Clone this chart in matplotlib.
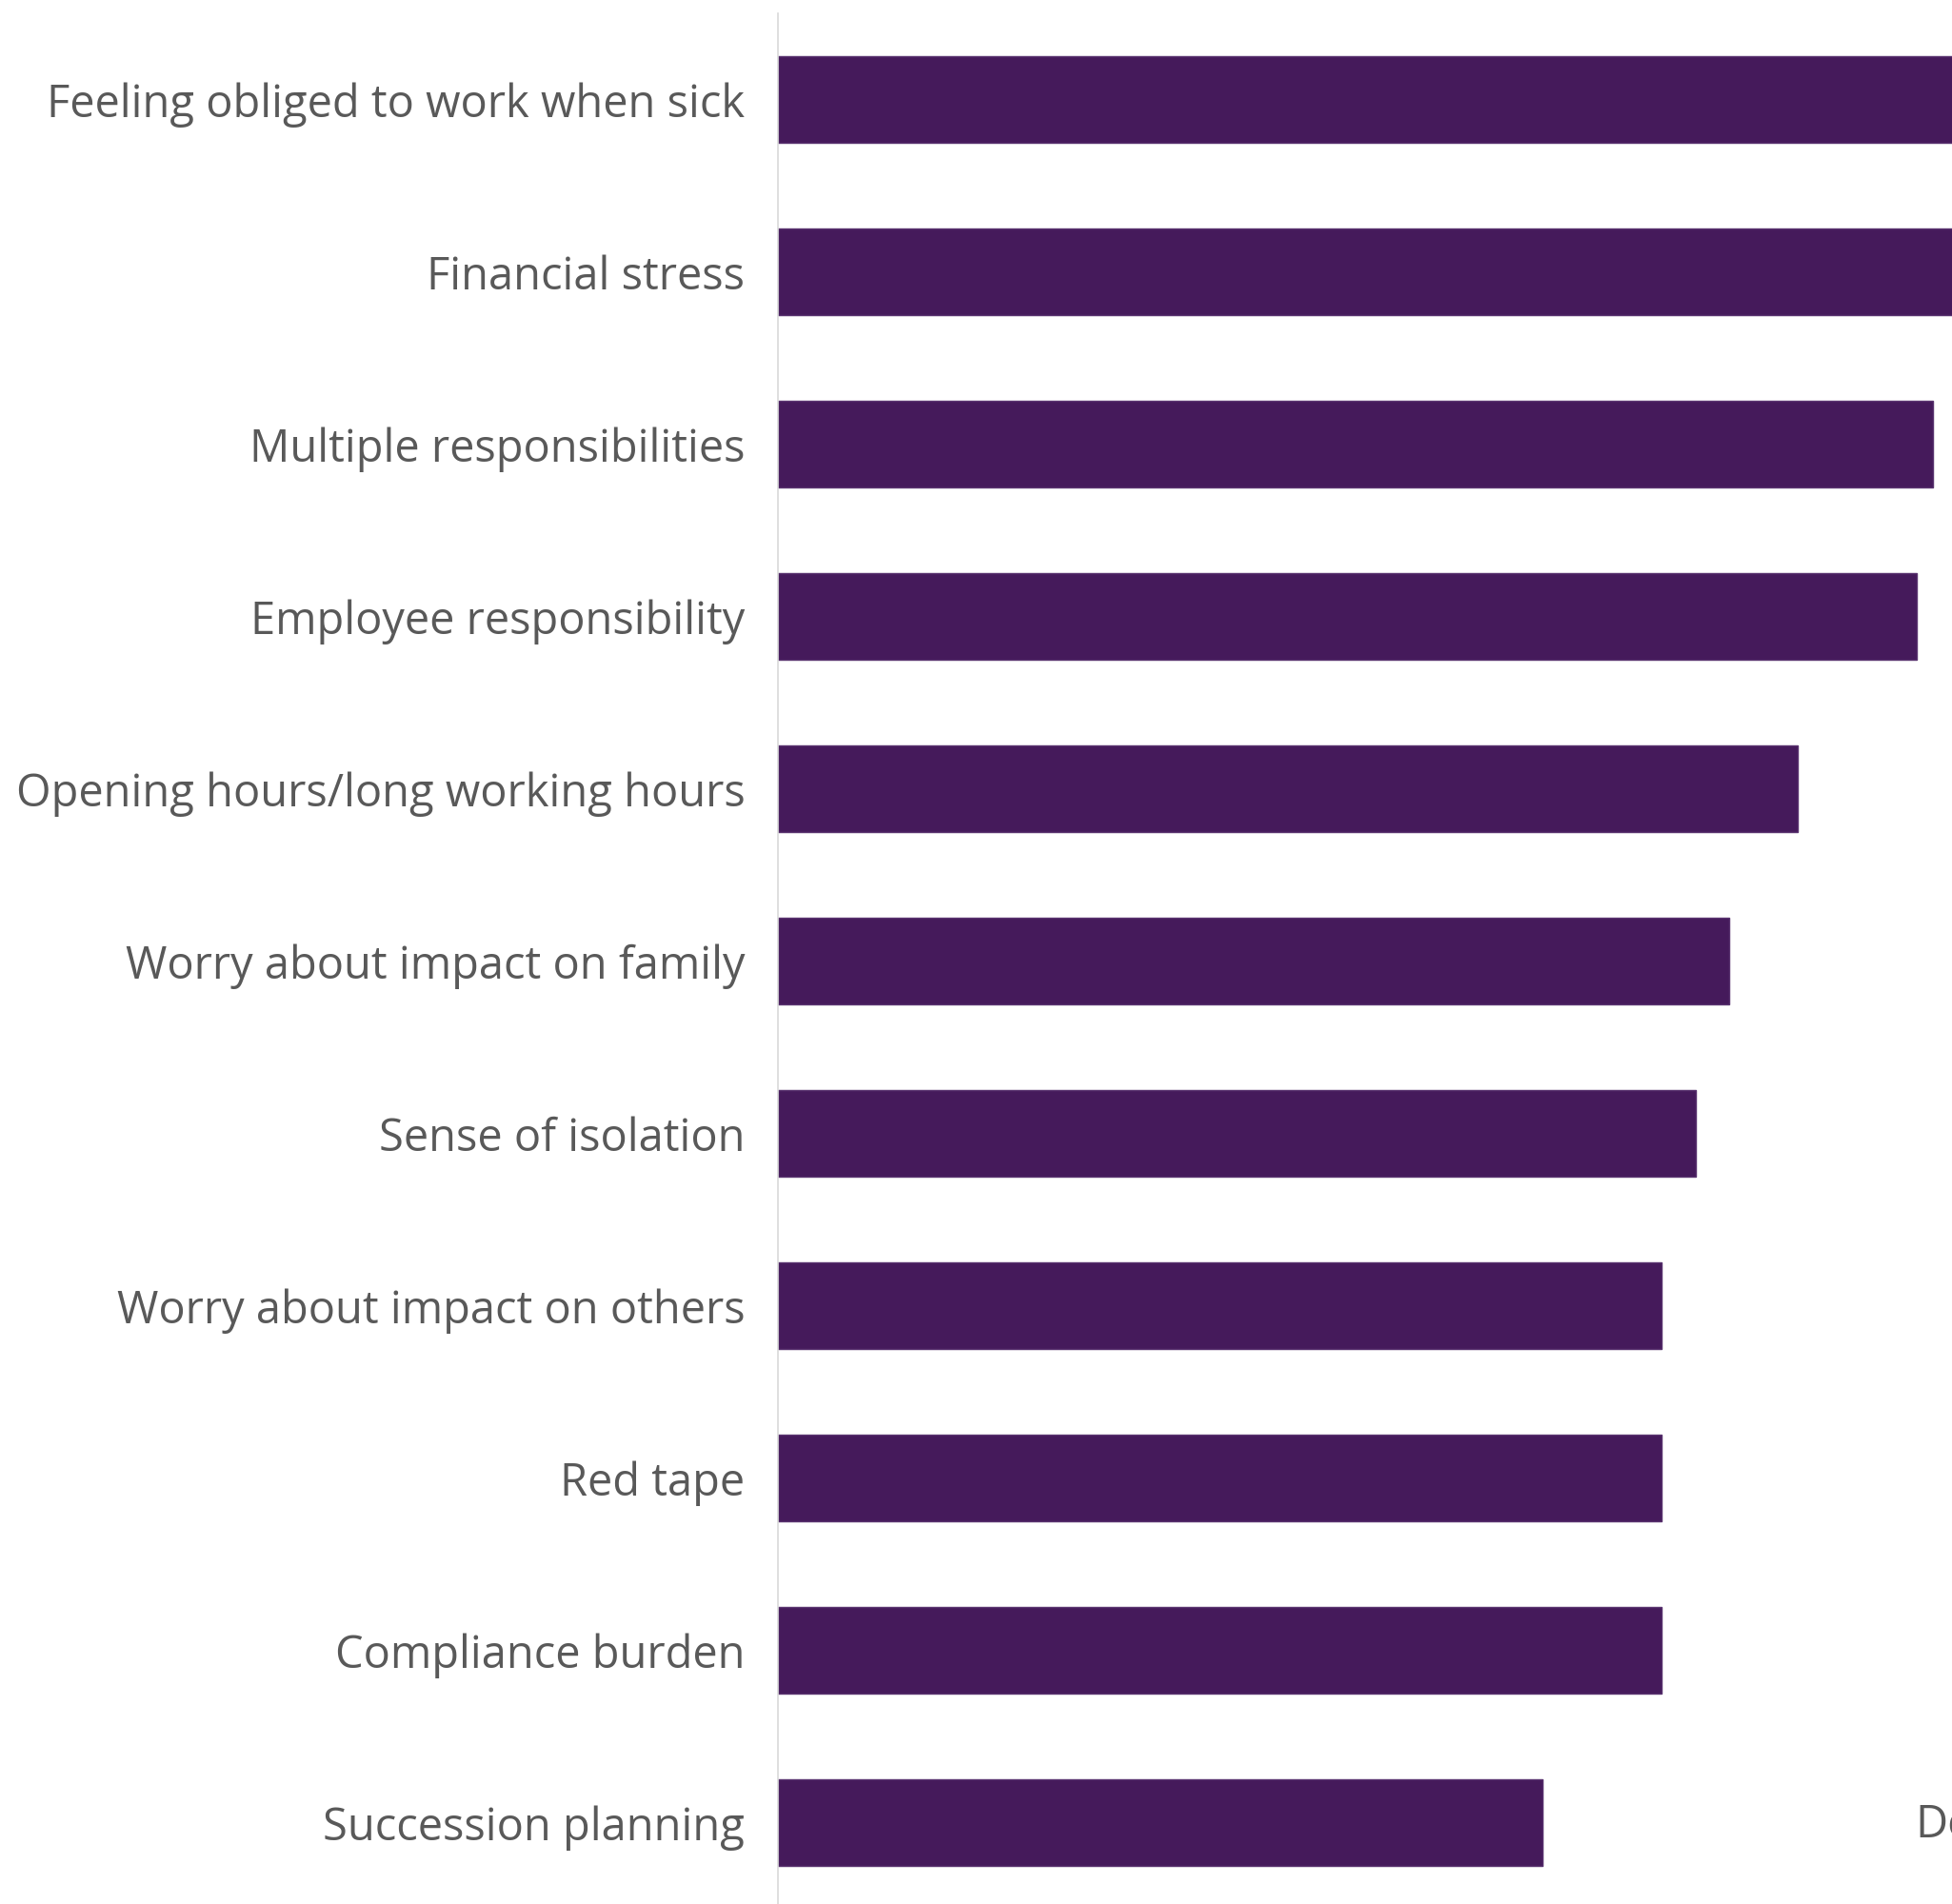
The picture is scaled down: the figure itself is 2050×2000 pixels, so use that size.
import matplotlib.pyplot as plt

categories = [
    "Feeling obliged to work when sick",
    "Financial stress",
    "Multiple responsibilities",
    "Employee responsibility",
    "Opening hours/long working hours",
    "Worry about impact on family",
    "Sense of isolation",
    "Worry about impact on others",
    "Red tape",
    "Compliance burden",
    "Succession planning",
]
values = [76, 73, 68, 67, 60, 56, 54, 52, 52, 52, 45]

bar_color = "#451A5B"
text_color = "#595959"

plt.rcParams['font.family'] = ['Open Sans', 'DejaVu Sans']

fig = plt.figure(figsize=(20.5, 20), dpi=100)
ax = fig.add_axes([817 / 2050, -5 / 2000, 1 - 817 / 2050, 1991 / 2000])

ind = list(range(len(categories)))
ax.barh(ind, values, height=0.5, color=bar_color, edgecolor="#5a3470", linewidth=1)

ax.set_xlim(0, 69.1)
ax.set_ylim(len(categories) - 0.5, -0.5)
ax.set_yticks(ind)
ax.set_yticklabels(categories, fontsize=33.8, color=text_color)
ax.tick_params(axis='y', length=0, pad=25)
ax.set_xticks([])

for side in ["top", "right", "bottom"]:
    ax.spines[side].set_visible(False)
ax.spines["left"].set_color("#d9d9d9")
ax.spines["left"].set_linewidth(1.2)

# start of the neighbouring panel's label, cut off at the edge
fig.text(2011 / 2050, 1 - 1917 / 2000, "De", fontsize=33.8, color=text_color, va="center", ha="left")

fig.savefig("out.png", dpi=100)
